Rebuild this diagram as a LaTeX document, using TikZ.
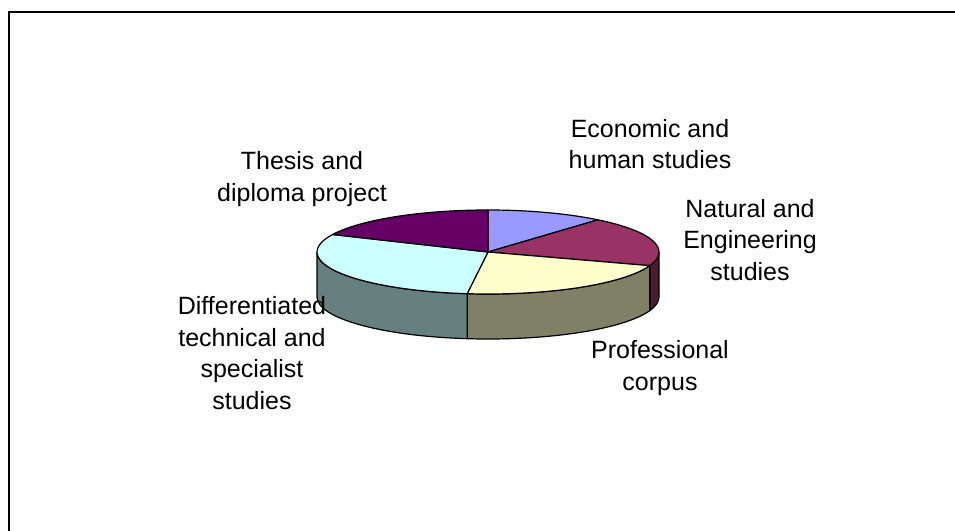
\documentclass[tikz,border=0pt]{standalone}
\usepackage{fontspec}
\setmainfont{Liberation Sans}
\usetikzlibrary{calc}
\definecolor{econ}{HTML}{9999FF}
\definecolor{natur}{HTML}{993366}
\definecolor{naturside}{HTML}{4D1A33}
\definecolor{prof}{HTML}{FFFFCC}
\definecolor{profside}{HTML}{808066}
\definecolor{diff}{HTML}{CCFFFF}
\definecolor{diffside}{HTML}{668080}
\definecolor{thesis}{HTML}{660066}
\tikzset{piecut/.style={draw=black,line width=1.2pt,line join=round},
         caption/.style={align=center,inner sep=0pt,font=\fontsize{25}{31.5}\selectfont}}

\begin{document}
\begin{tikzpicture}[x=1pt,y=1pt]
            \useasboundingbox (0,0) rectangle (955,530);
            % frame
            \draw[line width=2pt] (9,-20) rectangle (980,518);

            \coordinate (c) at (488,278);
            % side walls
            \filldraw[piecut,fill=naturside] ($(c)+(-19:171 and 42)$) arc[start angle=-19,end angle=0,x radius=171pt,y radius=42pt]
                -- ++(0,-45) arc[start angle=0,end angle=-19,x radius=171pt,y radius=42pt] -- cycle;
            \filldraw[piecut,fill=profside] ($(c)+(-97:171 and 42)$) arc[start angle=-97,end angle=-19,x radius=171pt,y radius=42pt]
                -- ++(0,-45) arc[start angle=-19,end angle=-97,x radius=171pt,y radius=42pt] -- cycle;
            \filldraw[piecut,fill=diffside] ($(c)+(180:171 and 42)$) arc[start angle=180,end angle=263,x radius=171pt,y radius=42pt]
                -- ++(0,-45) arc[start angle=263,end angle=180,x radius=171pt,y radius=42pt] -- cycle;

            % top of the pie
            \filldraw[piecut,fill=econ] (c) -- ($(c)+(50:171 and 42)$) arc[start angle=50,end angle=90,x radius=171pt,y radius=42pt] -- cycle;
            \filldraw[piecut,fill=natur] (c) -- ($(c)+(-19:171 and 42)$) arc[start angle=-19,end angle=50,x radius=171pt,y radius=42pt] -- cycle;
            \filldraw[piecut,fill=prof] (c) -- ($(c)+(-97:171 and 42)$) arc[start angle=-97,end angle=-19,x radius=171pt,y radius=42pt] -- cycle;
            \filldraw[piecut,fill=diff] (c) -- ($(c)+(155.4:171 and 42)$) arc[start angle=155.4,end angle=263,x radius=171pt,y radius=42pt] -- cycle;
            \filldraw[piecut,fill=thesis] (c) -- ($(c)+(90:171 and 42)$) arc[start angle=90,end angle=155.4,x radius=171pt,y radius=42pt] -- cycle;

            % labels
            \node[caption] (econlabel) at (650,386) {Economic and\\human studies};
            \node[caption] (naturlabel) at (750,290) {Natural and\\Engineering\\studies};
            \node[caption] (proflabel) at (660,162) {Professional\\corpus};
            \node[caption] (difflabel) at (252,177) {Differentiated\\technical and\\specialist\\studies};
            \node[caption] (thesislabel) at (302,351) {Thesis and\\diploma project};
\end{tikzpicture}
\end{document}
